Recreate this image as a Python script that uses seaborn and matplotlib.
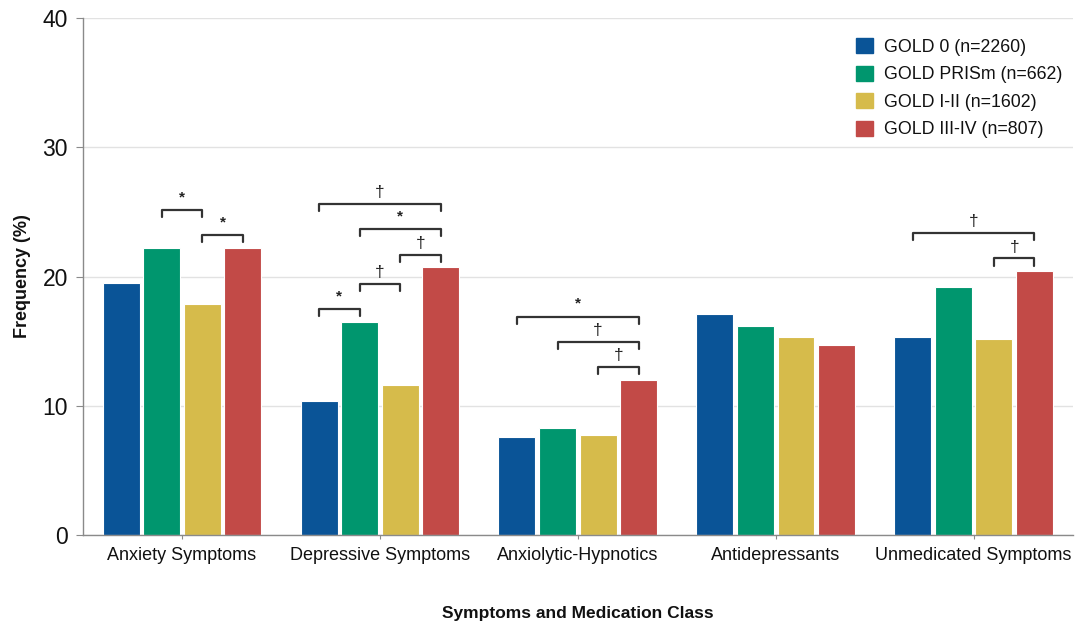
import pandas as pd
import seaborn as sns
import matplotlib.pyplot as plt

# values
categories = ["Anxiety Symptoms", "Depressive Symptoms", "Anxiolytic-Hypnotics",
              "Antidepressants", "Unmedicated Symptoms"]
groups = ["GOLD 0 (n=2260)", "GOLD PRISm (n=662)", "GOLD I-II (n=1602)", "GOLD III-IV (n=807)"]
gold0 = [19.5, 10.4, 7.6, 17.1, 15.3]
prism = [22.2, 16.5, 8.3, 16.2, 19.2]
gold12 = [17.9, 11.6, 7.7, 15.3, 15.2]
gold34 = [22.2, 20.7, 12.0, 14.7, 20.4]
colors = ["#0a5497", "#00966e", "#d6bb4b", "#c24a47"]

# significance brackets: (category, group a, group b, symbol, stacking level)
comparisons = [
    (0, 1, 2, "*", 1), (0, 2, 3, "*", 0),
    (1, 0, 1, "*", 0), (1, 1, 2, "\u2020", 1), (1, 2, 3, "\u2020", 0),
    (1, 1, 3, "*", 1), (1, 0, 3, "\u2020", 2),
    (2, 2, 3, "\u2020", 0), (2, 1, 3, "\u2020", 1), (2, 0, 3, "*", 2),
    (4, 2, 3, "\u2020", 0), (4, 0, 3, "\u2020", 1),
]


def main():
    series = [gold0, prism, gold12, gold34]
    rows = []
    for g, vals in zip(groups, series):
        for c, v in zip(categories, vals):
            rows.append({"cat": c, "group": g, "freq": v})
    df = pd.DataFrame(rows)

    sns.set_style("white")
    plt.rcParams["font.family"] = ["Liberation Sans", "DejaVu Sans"]
    plt.rcParams["text.color"] = "#111111"
    plt.rcParams["axes.labelcolor"] = "#111111"
    plt.rcParams["xtick.labelcolor"] = "#111111"
    plt.rcParams["ytick.labelcolor"] = "#111111"

    fig = plt.figure(figsize=(10.79, 6.27), dpi=100)
    ax = fig.add_axes([0.077, 0.147, 0.917, 0.824])

    sns.barplot(data=df, x="cat", y="freq", hue="group", order=categories,
                hue_order=groups, palette=colors, width=0.82, gap=0.09,
                edgecolor="white", linewidth=0.8, saturation=1,
                legend=False, ax=ax, zorder=2)

    ax.set_ylim(0, 40)
    ax.set_xlim(-0.5, 4.5)
    ax.set_yticks([0, 10, 20, 30, 40])
    ax.yaxis.grid(True, color="#e2e2e2", lw=1)
    ax.set_axisbelow(True)
    for s in ["top", "right"]:
        ax.spines[s].set_visible(False)
    for s in ["left", "bottom"]:
        ax.spines[s].set_color("#8a8a8a")
        ax.spines[s].set_linewidth(1)
    ax.tick_params(axis="y", labelsize=16.5, length=5, color="#8a8a8a", left=True, pad=6)
    ax.tick_params(axis="x", labelsize=13, length=3, color="#8a8a8a", bottom=True, pad=6)

    ax.set_ylabel("Frequency (%)", fontsize=13, fontweight="bold", labelpad=8)
    ax.set_xlabel("Symptoms and Medication Class", fontsize=12.5, fontweight="bold", labelpad=30)

    # brackets
    tip = 0.55
    for c, a, b, sym, lvl in comparisons:
        xa = ax.containers[a][c].get_x() + ax.containers[a][c].get_width() / 2
        xb = ax.containers[b][c].get_x() + ax.containers[b][c].get_width() / 2
        top = max(series[k][c] for k in range(a, b + 1))
        y = top + 1.0 + 1.95 * lvl
        ax.plot([xa, xa, xb, xb], [y - tip, y, y, y - tip], color="#333333", lw=1.6, zorder=3)
        if sym == "*":
            ax.text((xa + xb) / 2, y + 0.45, sym, ha="center", va="bottom", fontsize=11,
                    fontweight="bold", color="#222222")
        else:
            ax.text((xa + xb) / 2, y + 0.3, sym, ha="center", va="bottom", fontsize=12.5,
                    color="#222222")

    handles = [plt.Rectangle((0, 0), 1, 1, color=col) for col in colors]
    ax.legend(handles, groups, loc="upper left", bbox_to_anchor=(856 / 1079, 1 - 38 / 627),
              bbox_transform=fig.transFigure, frameon=False, fontsize=12.8,
              handlelength=0.95, handleheight=0.95, handletextpad=0.65, labelspacing=0.55,
              borderpad=0, borderaxespad=0)

    fig.savefig("out.png", dpi=100)


if __name__ == "__main__":
    main()
